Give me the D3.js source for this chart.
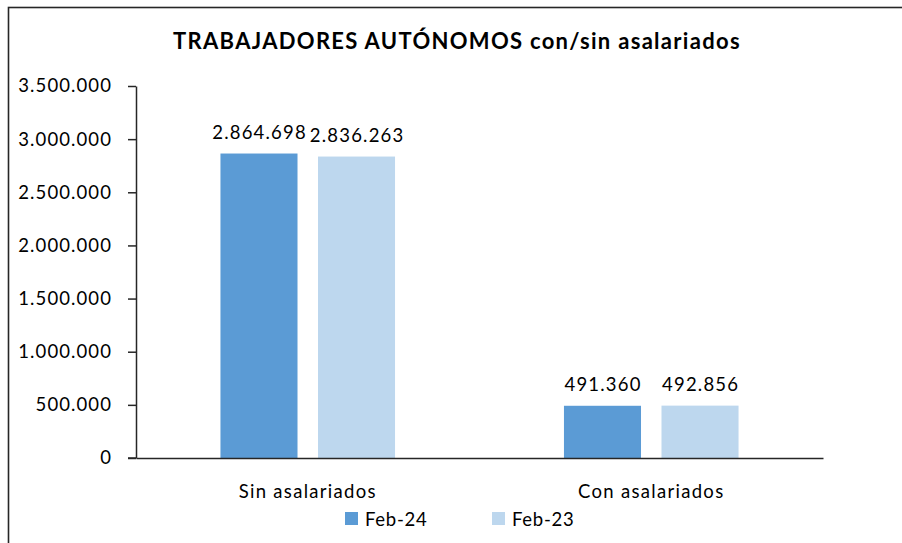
<!DOCTYPE html>
<html><head><meta charset="utf-8">
<script src="https://cdn.jsdelivr.net/npm/d3@7"></script>
<style>
html,body{margin:0;padding:0;background:#fff;}
svg{display:block;font-family:Lato, "Open Sans", sans-serif;}
</style></head>
<body>
<svg id="chart" width="902" height="543"></svg>
<script>
const categories = ["Sin asalariados", "Con asalariados"];
const seriesNames = ["Feb-24", "Feb-23"];
const feb24 = [2864698, 491360];
const feb23 = [2836263, 492856];
const yTicks = [0, 500000, 1000000, 1500000, 2000000, 2500000, 3000000, 3500000];
const colors = ["#5B9BD5", "#BDD7EE"];
const title = "TRABAJADORES AUTÓNOMOS con/sin asalariados";

const seriesValues = [feb24, feb23];
const data = categories.map((c, i) => ({cat: c, vals: seriesNames.map((s, j) => ({s, v: seriesValues[j][i], j}))}));

const svg = d3.select("#chart");
const fmt = v => d3.format(",")(v).replace(/,/g, ".");

// outer border
svg.append("rect").attr("x", 8.5).attr("y", 7.5).attr("width", 1000).attr("height", 1000)
  .attr("fill", "none").attr("stroke", "#262626").attr("stroke-width", 1.6);

const mLeft = 136, mRight = 823, mTop = 86, mBottom = 458;
const y = d3.scaleLinear().domain([0, 3500000]).range([mBottom, mTop]);
const x0 = d3.scaleBand().domain(categories).range([mLeft, mRight]).padding(0);
const x1 = d3.scaleBand().domain(seriesNames).range([0, x0.bandwidth()]).paddingInner(0.21).paddingOuter(0.866);

// title
svg.append("text").attr("x", 457).attr("y", 49).attr("text-anchor", "middle")
  .attr("font-weight", "bold").attr("font-size", 22).attr("letter-spacing", 1.3)
  .attr("fill", "#000").text(title);

// bars
const g = svg.append("g");
data.forEach(d => {
  d.vals.forEach(e => {
    const bx = x0(d.cat) + x1(e.s);
    g.append("rect").attr("x", bx).attr("y", y(e.v)).attr("width", x1.bandwidth())
      .attr("height", y(0) - y(e.v)).attr("fill", colors[e.j]);
    g.append("text").attr("x", bx + x1.bandwidth() / 2 + 0.6).attr("y", y(e.v) - 15)
      .attr("text-anchor", "middle").attr("font-size", 18.5).attr("letter-spacing", 1.2)
      .attr("fill", "#000").text(fmt(e.v));
  });
});

// y axis
const yAxis = d3.axisLeft(y).tickValues(yTicks).tickFormat(fmt).tickSize(8).tickSizeOuter(0).tickPadding(16);
const ya = svg.append("g").attr("transform", `translate(${mLeft},0)`).call(yAxis);
ya.select(".domain").attr("stroke", "#262626").attr("stroke-width", 1.5);
ya.selectAll(".tick line").attr("stroke", "#262626").attr("stroke-width", 1.5);
ya.selectAll(".tick text").attr("font-size", 18.5).attr("letter-spacing", 1.1)
  .attr("fill", "#000").attr("font-family", "Lato, sans-serif");

// x axis
const xAxis = d3.axisBottom(x0).tickSize(0).tickSizeOuter(0).tickPadding(24);
const xa = svg.append("g").attr("transform", `translate(0,${mBottom})`).call(xAxis);
xa.select(".domain").attr("stroke", "#262626").attr("stroke-width", 1.5);
xa.selectAll(".tick text").attr("font-size", 18.5).attr("letter-spacing", 1.3)
  .attr("dy", "0.85em").attr("fill", "#000").attr("font-family", "Lato, sans-serif");
xa.append("line").attr("x1", mLeft - 8).attr("x2", mLeft).attr("y1", 0).attr("y2", 0)
  .attr("stroke", "#262626").attr("stroke-width", 1.5);

// legend
const legX = [345, 492];
seriesNames.forEach((s, j) => {
  svg.append("rect").attr("x", legX[j]).attr("y", 512).attr("width", 13).attr("height", 13).attr("fill", colors[j]);
  svg.append("text").attr("x", legX[j] + 20).attr("y", 526).attr("font-size", 18.5)
    .attr("letter-spacing", 0.7).attr("fill", "#000").text(s);
});
</script>
</body></html>
